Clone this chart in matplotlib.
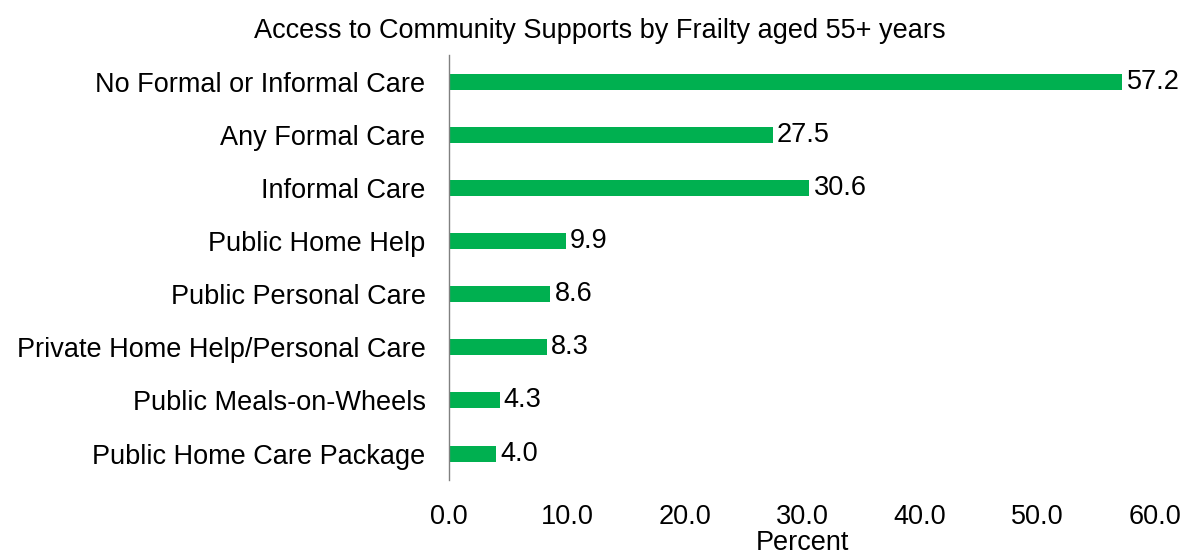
import matplotlib.pyplot as plt

# Access to community supports, percent of frail adults aged 55+
categories = [
    "No Formal or Informal Care",
    "Any Formal Care",
    "Informal Care",
    "Public Home Help",
    "Public Personal Care",
    "Private Home Help/Personal Care",
    "Public Meals-on-Wheels",
    "Public Home Care Package",
]
values = [57.2, 27.5, 30.6, 9.9, 8.6, 8.3, 4.3, 4.0]
xticks = [0, 10, 20, 30, 40, 50, 60]


def main():
    plt.rcParams['font.family'] = ['Liberation Sans', 'DejaVu Sans']
    fig = plt.figure(figsize=(11.85, 5.57), dpi=100)
    ax = fig.add_axes([0.379, 0.138, 0.596, 0.763])

    fs = 19.5
    pos = list(range(len(categories)))
    ax.barh(pos, values, height=0.3, color='#00B050')
    for p, v in zip(pos, values):
        ax.text(v + 0.35, p, f"{v:.1f}", va='center', ha='left', fontsize=fs)

    ax.set_ylim(len(categories) - 0.5, -0.5)
    ax.set_xlim(0, 60)
    ax.set_yticks(pos)
    ax.set_yticklabels(categories, fontsize=fs)
    ax.set_xticks(xticks)
    ax.set_xticklabels([f"{t:.1f}" for t in xticks], fontsize=fs)
    ax.tick_params(axis='both', length=0)
    ax.tick_params(axis='y', pad=17)
    ax.tick_params(axis='x', pad=17)

    for s in ['top', 'right', 'bottom']:
        ax.spines[s].set_visible(False)
    ax.spines['left'].set_color('#808080')
    ax.spines['left'].set_linewidth(1)

    ax.set_xlabel('Percent', fontsize=fs, labelpad=0)
    fig.text(0.506, 0.945, 'Access to Community Supports by Frailty aged 55+ years',
             ha='center', va='center', fontsize=fs)

    fig.savefig('out.png', dpi=100)


if __name__ == "__main__":
    main()
